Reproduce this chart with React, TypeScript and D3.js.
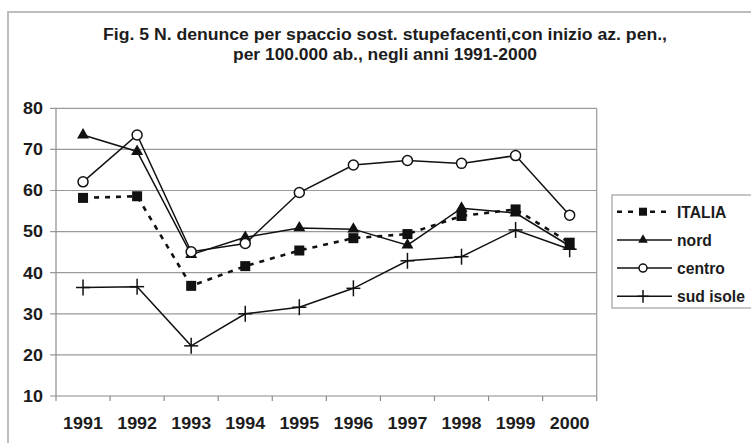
import React from "react";
import * as d3 from "d3";

const years = ["1991", "1992", "1993", "1994", "1995", "1996", "1997", "1998", "1999", "2000"];
const italia = [58.2, 58.6, 36.8, 41.6, 45.4, 48.4, 49.4, 53.8, 55.4, 47.3];
const nord = [73.5, 69.5, 44.4, 48.6, 50.9, 50.6, 46.7, 55.7, 54.5, 46.5];
const centro = [62.1, 73.5, 45.1, 47.1, 59.5, 66.2, 67.3, 66.6, 68.5, 54.0];
const sudIsole = [36.4, 36.6, 22.2, 30.0, 31.6, 36.2, 42.9, 43.9, 50.4, 45.7];
const yTicks = [10, 20, 30, 40, 50, 60, 70, 80];
const titleLines = [
  "Fig. 5 N. denunce per spaccio sost. stupefacenti,con inizio az. pen.,",
  "per 100.000 ab., negli anni 1991-2000",
];
const titleWidths = [564, 304];

const seriesList = [
  { name: "ITALIA", values: italia, marker: "square", dashed: true },
  { name: "nord", values: nord, marker: "triangle", dashed: false },
  { name: "centro", values: centro, marker: "circle", dashed: false },
  { name: "sud isole", values: sudIsole, marker: "plus", dashed: false },
];

const W = 751;
const H = 443;
const plot = { left: 56, right: 596.7, top: 108.3, bottom: 396 };
const font = "'Liberation Sans', Arial, sans-serif";
const textColor = "#1c1c1c";

function Marker({ type, x, y, s = 1 }: { type: string; x: number; y: number; s?: number }) {
  if (type === "square") {
    return <rect x={x - 5 * s} y={y - 5 * s} width={10 * s} height={10 * s} fill="#111" />;
  }
  if (type === "triangle") {
    const p = d3.symbol().type(d3.symbolTriangle).size(62 * s * s)();
    return <path d={p || ""} transform={`translate(${x},${y})`} fill="#111" />;
  }
  if (type === "circle") {
    return <circle cx={x} cy={y} r={5 * s} fill="#fff" stroke="#111" strokeWidth={1.5} />;
  }
  return (
    <g stroke="#111" strokeWidth={1.5}>
      <line x1={x - 7 * s} x2={x + 7 * s} y1={y} y2={y} />
      <line x1={x} x2={x} y1={y - 8 * s} y2={y + 8 * s} />
    </g>
  );
}

function SText({
  x,
  y,
  anchor,
  sx = 1.12,
  children,
}: {
  x: number;
  y: number;
  anchor: "start" | "middle" | "end";
  sx?: number;
  children: React.ReactNode;
}) {
  return (
    <text
      transform={`translate(${x},${y}) scale(${sx},1)`}
      textAnchor={anchor}
      fontSize={16}
      fontWeight="bold"
      fill={textColor}
    >
      {children}
    </text>
  );
}

export default function App() {
  const x = d3.scaleBand<string>().domain(years).range([plot.left, plot.right]);
  const y = d3.scaleLinear().domain([10, 80]).range([plot.bottom, plot.top]);
  const cx = (yr: string) => (x(yr) as number) + x.bandwidth() / 2;
  const line = d3
    .line<number>()
    .x((_, i) => cx(years[i]))
    .y((v) => y(v));

  const legend = { x: 612, y: 195, w: 150, h: 113, rowH: 28.2, first: 211.7 };

  return (
    <svg
      width={W}
      height={H}
      style={{ position: "absolute", left: 0, top: 0, background: "#fff" }}
      fontFamily={font}
    >
      <rect x={0} y={0} width={W} height={H} fill="#fff" />
      <rect x={8} y={12} width={W + 20} height={H + 20} fill="none" stroke="#bdbdbd" strokeWidth={2} />

      {titleLines.map((t, i) => (
        <text
          key={i}
          x={385}
          y={40 + i * 19.5}
          textAnchor="middle"
          fontSize={16}
          fontWeight="bold"
          fill={textColor}
          textLength={titleWidths[i]}
          lengthAdjust="spacingAndGlyphs"
        >
          {t}
        </text>
      ))}

      {/* grid */}
      {yTicks.map((t) => (
        <g key={t}>
          <line
            x1={plot.left - 6}
            x2={plot.right}
            y1={y(t)}
            y2={y(t)}
            stroke={t === 10 ? "#8c8c8c" : "#9a9a9a"}
            strokeWidth={1.2}
          />
          <SText x={43} y={y(t) + 5.8} anchor="end">
            {t}
          </SText>
        </g>
      ))}
      <line x1={plot.left} x2={plot.left} y1={plot.top} y2={plot.bottom} stroke="#8c8c8c" strokeWidth={1.2} />
      <line x1={plot.right} x2={plot.right} y1={plot.top} y2={plot.bottom} stroke="#9a9a9a" strokeWidth={1.2} />

      {/* x ticks & labels */}
      {years.map((yr, i) => (
        <g key={yr}>
          <line
            x1={(x(yr) as number) + x.bandwidth()}
            x2={(x(yr) as number) + x.bandwidth()}
            y1={plot.bottom}
            y2={plot.bottom + 5}
            stroke="#8c8c8c"
            strokeWidth={1.2}
          />
          {i === 0 && (
            <line x1={plot.left} x2={plot.left} y1={plot.bottom} y2={plot.bottom + 5} stroke="#8c8c8c" strokeWidth={1.2} />
          )}
          <SText x={cx(yr)} y={428.5} anchor="middle">
            {yr}
          </SText>
        </g>
      ))}

      {/* series lines */}
      {seriesList.map((s) => (
        <path
          key={s.name}
          d={line(s.values) || ""}
          fill="none"
          stroke="#111"
          strokeWidth={s.dashed ? 2.6 : 1.5}
          strokeDasharray={s.dashed ? "5,6" : undefined}
        />
      ))}
      {seriesList.map((s) => (
        <g key={s.name + "m"}>
          {s.values.map((v, i) => (
            <Marker key={i} type={s.marker} x={cx(years[i])} y={y(v)} />
          ))}
        </g>
      ))}

      {/* legend */}
      <rect x={legend.x} y={legend.y} width={legend.w} height={legend.h} fill="#fff" stroke="#a0a0a0" strokeWidth={1.2} />
      {seriesList.map((s, i) => {
        const ly = legend.first + i * legend.rowH;
        return (
          <g key={s.name + "l"}>
            <line
              x1={617}
              x2={672}
              y1={ly}
              y2={ly}
              stroke="#111"
              strokeWidth={s.dashed ? 2.6 : 1.5}
              strokeDasharray={s.dashed ? "5,6" : undefined}
            />
            <Marker type={s.marker} x={643} y={ly} s={0.8} />
            <SText x={677} y={ly + 5.8} anchor="start" sx={0.98}>
              {s.name}
            </SText>
          </g>
        );
      })}
    </svg>
  );
}
